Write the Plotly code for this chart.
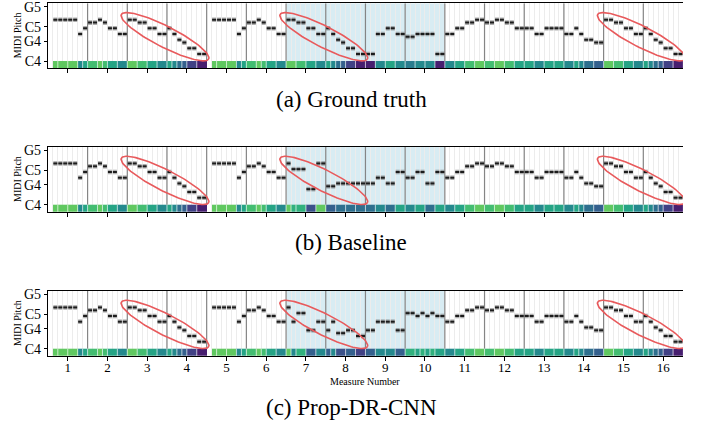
import numpy as np
import plotly.graph_objects as go

# ---------------- data (MIDI pitch per eighth-note step, None = rest) ----------------
measures = list(range(1, 17))
steps_per_measure = 8

ground_truth = [
    [None, 74, 74, 74, 74, 74, 69, 71],
    [73, 73, 74, 73, 71, 71, 69, 69],
    [74, 74, 73, 73, 71, 71, 69, 69],
    [71, 69, 67, 66, 64, 64, 62, 62],
    [None, 74, 74, 74, 74, 74, 69, 71],
    [73, 73, 74, 73, 71, 71, 69, 69],
    [74, 74, 73, 73, 71, 71, 69, 69],
    [71, 69, 67, 66, 64, 64, 62, 62],
    [62, 62, 69, 69, 71, 71, 69, 69],
    [68, 68, 69, 69, 69, 69, 62, 62],
    [69, 69, 71, 71, 73, 73, 74, 74],
    [73, 73, 74, 74, 73, 73, 71, 71],
    [71, 71, 69, 69, 71, 71, 71, 71],
    [69, 69, 71, 69, 67, 67, 66, 66],
    [74, 74, 73, 73, 71, 71, 69, 69],
    [71, 69, 67, 66, 64, 64, 62, 62],
]

baseline = [
    [None, 74, 74, 74, 74, 74, 69, 71],
    [73, 73, 74, 73, 71, 71, 69, 69],
    [74, 74, 73, 73, 71, 71, 69, 69],
    [71, 69, 67, 66, 64, 64, 62, 62],
    [None, 74, 74, 74, 74, 74, 69, 71],
    [73, 73, 74, 73, 71, 71, 69, 69],
    [74, 72, 72, 72, 65, 65, 74, 74],
    [66, 66, 67, 67, 67, 67, 67, 67],
    [67, 67, 69, 69, 67, 67, 71, 71],
    [69, 69, 71, 71, 67, 67, 71, 71],
    [69, 69, 71, 71, 73, 73, 74, 74],
    [73, 73, 74, 74, 73, 73, 71, 71],
    [71, 71, 69, 69, 71, 71, 71, 71],
    [69, 69, 71, 69, 67, 67, 66, 66],
    [74, 74, 73, 73, 71, 71, 69, 69],
    [71, 69, 67, 66, 64, 64, 62, 62],
]

prop_dr_cnn = [
    [None, 74, 74, 74, 74, 74, 69, 71],
    [73, 73, 74, 73, 71, 71, 69, 69],
    [74, 74, 73, 73, 71, 71, 69, 69],
    [71, 69, 67, 66, 64, 64, 62, 62],
    [None, 74, 74, 74, 74, 74, 69, 71],
    [73, 73, 74, 73, 71, 71, 69, 69],
    [74, 69, 72, 72, 66, 66, 69, 69],
    [66, 69, 65, 65, 66, 66, 64, 64],
    [66, 66, 69, 69, 69, 69, 66, 66],
    [72, 72, 71, 72, 71, 72, 71, 71],
    [69, 69, 71, 71, 73, 73, 74, 74],
    [73, 73, 74, 74, 73, 73, 71, 71],
    [71, 71, 69, 69, 71, 71, 71, 71],
    [69, 69, 71, 69, 67, 67, 66, 66],
    [74, 74, 73, 73, 71, 71, 69, 69],
    [71, 69, 67, 66, 64, 64, 62, 62],
]

panels = [ground_truth, baseline, prop_dr_cnn]
captions = ["(a) Ground truth", "(b) Baseline", "(c) Prop-DR-CNN"]

pitch_ticks = [60, 67, 72, 79]
pitch_labels = ["C4", "G4", "C5", "G5"]

highlight_span = (6.5, 10.5)                            # shaded measures
ellipse_spans = [(2.5, 4.5), (6.5, 8.5), (14.5, 16.5)]  # circled passages

# ---------------- layout geometry ----------------
W, H = 702, 428
X_LEFT, X_RIGHT = 47.9, 683.0
panel_px = [(3.3, 68.3), (147.0, 212.0), (291.0, 356.0)]
Y_RANGE = [57.45, 80.2]
STRIP_TOP = 60.0
X_RANGE = [0.5, 16.5]
px_per_measure = (X_RIGHT - X_LEFT) / (X_RANGE[1] - X_RANGE[0])
px_per_semi = (panel_px[0][1] - panel_px[0][0]) / (Y_RANGE[1] - Y_RANGE[0])

FONT = "Liberation Serif, Times New Roman, serif"
step = 1.0 / steps_per_measure
edges = X_RANGE[0] + np.arange(len(measures) * steps_per_measure + 1) * step

fig = go.Figure()
shapes = []
annotations = []

for i, data in enumerate(panels):
    sfx = "" if i == 0 else str(i + 1)
    xa, ya = "x" + sfx, "y" + sfx
    flat = [p for m in data for p in m]

    # shaded region
    shapes.append(dict(type="rect", xref=xa, yref=ya, x0=highlight_span[0], x1=highlight_span[1],
                       y0=Y_RANGE[0], y1=Y_RANGE[1], layer="below",
                       fillcolor="rgba(173,216,230,0.48)", line=dict(width=0)))

    # measure boundary lines
    mx, my = [], []
    for b in np.arange(1.5, 16.5, 1.0):
        mx += [b, b, None]
        my += [STRIP_TOP, Y_RANGE[1], None]
    fig.add_trace(go.Scatter(x=mx, y=my, mode="lines", xaxis=xa, yaxis=ya,
                             line=dict(color="#858585", width=1.2), hoverinfo="skip", showlegend=False))

    # notes
    nx, ny = [], []
    inset = 0.012
    for c, p in enumerate(flat):
        if p is None:
            continue
        nx += [edges[c] + inset, edges[c + 1] - inset, None]
        ny += [p + 0.45, p + 0.45, None]
    fig.add_trace(go.Scatter(x=nx, y=ny, mode="lines", xaxis=xa, yaxis=ya,
                             line=dict(color="rgba(110,110,110,0.55)", width=4.6),
                             hoverinfo="skip", showlegend=False))
    fig.add_trace(go.Scatter(x=nx, y=ny, mode="lines", xaxis=xa, yaxis=ya,
                             line=dict(color="#1c1c1c", width=2.0),
                             hoverinfo="skip", showlegend=False))

    # pitch colour strip
    fig.add_trace(go.Heatmap(z=[flat], x=edges, y=[Y_RANGE[0], STRIP_TOP], xaxis=xa, yaxis=ya,
                             colorscale="Viridis", zmin=60.5, zmax=78.5, showscale=False,
                             hoverinfo="skip"))
    sx, sy = [], []
    for c in range(1, len(flat)):
        if flat[c] is None or flat[c - 1] is None:
            continue
        if flat[c] != flat[c - 1] or c % 2 == 0:
            sx += [edges[c], edges[c], None]
            sy += [Y_RANGE[0], STRIP_TOP, None]
    fig.add_trace(go.Scatter(x=sx, y=sy, mode="lines", xaxis=xa, yaxis=ya,
                             line=dict(color="rgba(255,255,255,0.75)", width=0.9),
                             hoverinfo="skip", showlegend=False))

    # red ellipses around the descending passages
    a_px, b_px, th = 49.0, 10.5, np.deg2rad(27)
    t = np.linspace(0, 2 * np.pi, 121)
    ex, ey = [], []
    for (s0, s1) in ellipse_spans:
        cx = (s0 + s1) / 2 - 0.05
        cy = 68.5
        dx = a_px * np.cos(t) * np.cos(th) - b_px * np.sin(t) * np.sin(th)
        dy = a_px * np.cos(t) * np.sin(th) + b_px * np.sin(t) * np.cos(th)
        ex += list(cx + dx / px_per_measure) + [None]
        ey += list(cy - dy / px_per_semi) + [None]
    fig.add_trace(go.Scatter(x=ex, y=ey, mode="lines", xaxis=xa, yaxis=ya,
                             line=dict(color="#e85a5c", width=1.6),
                             hoverinfo="skip", showlegend=False))

    top, bot = panel_px[i]
    ydom = [1 - bot / H, 1 - top / H]
    fig.layout["xaxis" + sfx] = dict(
        domain=[X_LEFT / W, X_RIGHT / W], range=X_RANGE, anchor=ya, automargin=False,
        tickvals=measures, ticktext=[str(m) for m in measures],
        showticklabels=(i == 2), ticks="outside", ticklen=4, tickcolor="black",
        ticklabelstandoff=-5, ticklabeloverflow="allow",
        showline=True, linecolor="black", linewidth=1, mirror=True,
        showgrid=False, zeroline=False, fixedrange=True,
        minor=dict(dtick=step, tick0=0.5, showgrid=True, gridcolor="#ececec", gridwidth=0.8, ticks=""),
        tickfont=dict(family=FONT, size=13, color="black"),
    )
    fig.layout["yaxis" + sfx] = dict(
        domain=ydom, range=Y_RANGE, anchor=xa, automargin=False,
        tickvals=pitch_ticks, ticktext=pitch_labels, ticklabeloverflow="allow",
        ticks="outside", ticklen=3, tickcolor="black",
        showline=True, linecolor="black", linewidth=1, mirror=False,
        showgrid=False, zeroline=False, fixedrange=True,
        tickfont=dict(family=FONT, size=14, color="black"),
    )
    annotations.append(dict(text="MIDI Pitch", textangle=-90, xref="paper", yref="paper",
                            x=17.5 / W, y=1 - ((top + bot) / 2) / H, showarrow=False,
                            font=dict(family=FONT, size=10, color="black"),
                            xanchor="center", yanchor="middle"))

caption_y = [99, 242, 407]
for cap, cyp in zip(captions, caption_y):
    annotations.append(dict(text=cap, xref="paper", yref="paper", x=0.5, y=1 - cyp / H,
                            showarrow=False, xanchor="center", yanchor="middle",
                            font=dict(family=FONT, size=23, color="black")))
annotations.append(dict(text="Measure Number", xref="paper", yref="paper",
                        x=(X_LEFT + X_RIGHT) / 2 / W, y=1 - 381 / H, showarrow=False,
                        xanchor="center", yanchor="middle",
                        font=dict(family=FONT, size=10, color="black")))

fig.update_layout(width=W, height=H, margin=dict(l=0, r=0, t=0, b=0, autoexpand=False),
                  paper_bgcolor="white", plot_bgcolor="white", hovermode=False,
                  shapes=shapes, annotations=annotations, showlegend=False)

fig.write_html("out.html", config={"displayModeBar": False},
               post_script="document.body.style.margin='0px';")
